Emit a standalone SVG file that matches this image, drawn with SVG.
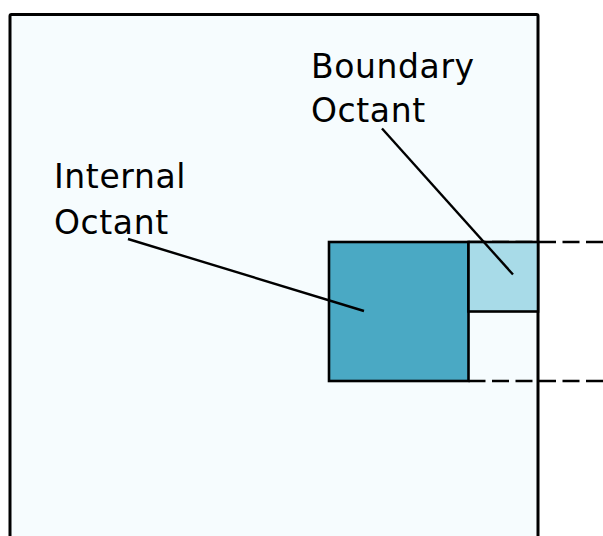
<svg xmlns="http://www.w3.org/2000/svg" width="603" height="536" viewBox="0 0 603 536">
  <style>
    .label { font-family: "DejaVu Sans", "Noto Sans", sans-serif; font-size: 33px; letter-spacing: 0.6px; fill: #000; }
    .edge { stroke: #000; stroke-width: 2.4; fill: none; }
    .dash { stroke: #000; stroke-width: 2.6; fill: none; stroke-dasharray: 17 6.5; }
  </style>
  <rect width="603" height="536" fill="#ffffff"/>

  <!-- parent cell -->
  <g id="domain">
    <rect x="10" y="14.5" width="528" height="540" rx="1.5" fill="#f6fcfe" stroke="#000" stroke-width="3"/>
  </g>

  <!-- neighbour extent -->
  <g id="neighbour-extent">
    <line class="dash" x1="468.5" y1="242" x2="603" y2="242"/>
    <line class="dash" x1="468.5" y1="381" x2="603" y2="381"/>
  </g>

  <g id="internal-octant">
    <rect x="329" y="242" width="139.5" height="139" fill="#4aa9c4" stroke="#000" stroke-width="2.6"/>
  </g>

  <g id="boundary-octant">
    <rect x="468.5" y="242" width="69.5" height="69.5" fill="#a8dbe8" stroke="#000" stroke-width="2.6"/>
  </g>

  <!-- callout leaders -->
  <g id="connectors">
    <line class="edge" x1="382" y1="128.5" x2="513" y2="274.5"/>
    <line class="edge" x1="128" y1="239" x2="364" y2="311"/>
  </g>

  <g id="label-boundary">
    <text class="label" x="311" y="77.5">Boundary</text>
    <text class="label" x="311" y="122">Octant</text>
  </g>
  <g id="label-internal">
    <text class="label" x="54" y="187.5">Internal</text>
    <text class="label" x="54" y="233.5">Octant</text>
  </g>
</svg>
